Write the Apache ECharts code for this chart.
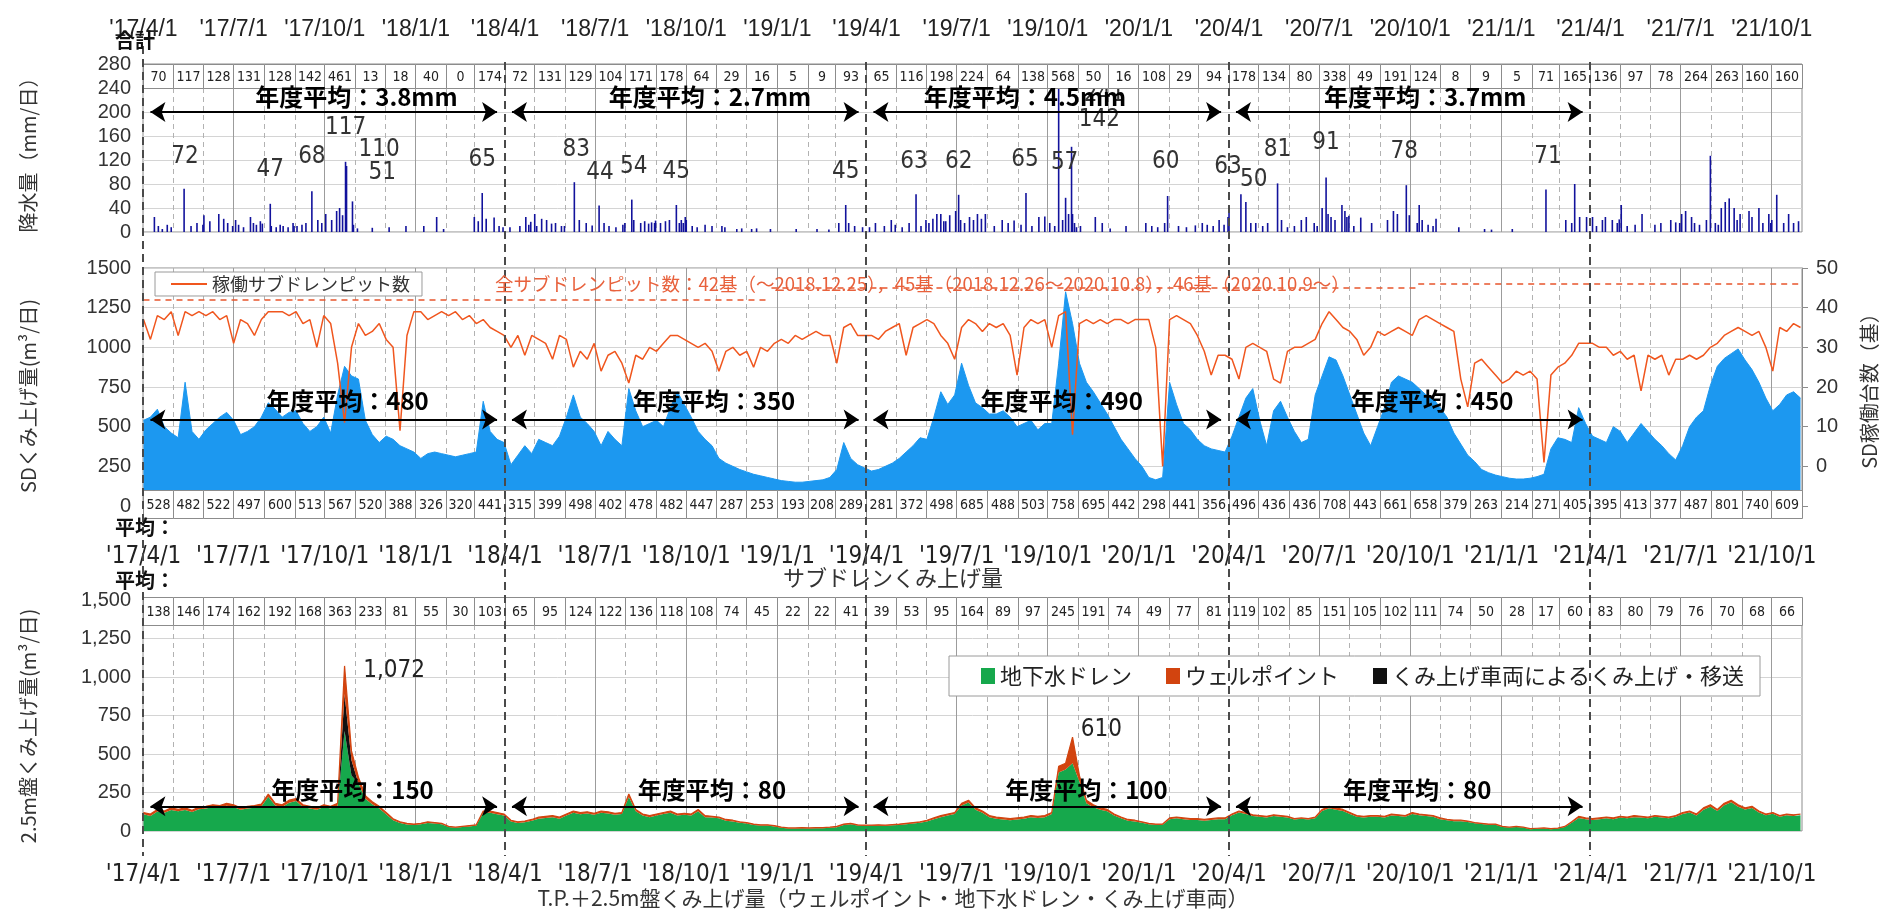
<!DOCTYPE html>
<html lang="ja">
<head>
<meta charset="utf-8">
<title>サブドレン・2.5m盤くみ上げ量</title>
<script src="https://cdn.jsdelivr.net/npm/echarts@6/dist/echarts.min.js"></script>
<style>
html, body { margin: 0; padding: 0; background: #fff; }
#chart { width: 1892px; height: 921px; }
</style>
</head>
<body>
<div id="chart"></div>
<script>
// ---------------- calendar ----------------
const FIRST_DAY = '2017-04-01';
const LAST_DAY = '2021-10-31';
const WEEK_STEP = 7;   // weekly series are sampled every 7 days from FIRST_DAY

const tickDates = ['2017-04-01','2017-07-01','2017-10-01','2018-01-01','2018-04-01','2018-07-01','2018-10-01',
  '2019-01-01','2019-04-01','2019-07-01','2019-10-01','2020-01-01','2020-04-01','2020-07-01','2020-10-01',
  '2021-01-01','2021-04-01','2021-07-01','2021-10-01'];
const tickLabels = ["'17/4/1","'17/7/1","'17/10/1","'18/1/1","'18/4/1","'18/7/1","'18/10/1",
  "'19/1/1","'19/4/1","'19/7/1","'19/10/1","'20/1/1","'20/4/1","'20/7/1","'20/10/1",
  "'21/1/1","'21/4/1","'21/7/1","'21/10/1"];
const fiscalStarts = ['2017-04-01','2018-04-01','2019-04-01','2020-04-01','2021-04-01'];

// ---------------- monthly table rows ----------------
const rainMonthly = [70,117,128,131,128,142,461,13,18,40,0,174,
  72,131,129,104,171,178,64,29,16,5,9,93,
  65,116,198,224,64,138,568,50,16,108,29,94,
  178,134,80,338,49,191,124,8,9,5,71,165,
  136,97,78,264,263,160,160];
const sdMonthly = [528,482,522,497,600,513,567,520,388,326,320,441,
  315,399,498,402,478,482,447,287,253,193,208,289,
  281,372,498,685,488,503,758,695,442,298,441,356,
  496,436,436,708,443,661,658,379,263,214,271,405,
  395,413,377,487,801,740,609];
const tpMonthly = [138,146,174,162,192,168,363,233,81,55,30,103,
  65,95,124,122,136,118,108,74,45,22,22,41,
  39,53,95,164,89,97,245,191,74,49,77,81,
  119,102,85,151,105,102,111,74,50,28,17,60,
  83,80,79,76,70,68,66];

// fiscal-year averages
const fyAvgRain = ['3.8mm','2.7mm','4.5mm','3.7mm'];
const fyAvgSD = [480, 350, 490, 450];
const fyAvgTP = [150, 80, 100, 80];

// ---------------- daily rainfall (mm/day) ----------------
const rainPeaks = [
  ['2017-05-12',72],['2017-08-07',47],['2017-09-18',68],['2017-10-22',117],['2017-10-23',110],['2017-10-29',51],
  ['2018-03-09',65],['2018-06-10',83],['2018-07-05',44],['2018-08-07',54],['2018-09-21',45],['2019-03-11',45],
  ['2019-05-21',63],['2019-07-03',62],['2019-09-09',65],['2019-10-19',57],['2019-10-25',142],['2019-10-12',241],
  ['2020-01-30',60],['2020-04-13',63],['2020-04-18',50],['2020-05-20',81],['2020-07-08',91],['2020-09-27',78],
  ['2021-02-15',71]
];
const rainDaily = [
  ['2017-04-12',25],['2017-04-16',10],['2017-04-20',5],['2017-04-25',12],['2017-04-29',8],
  ['2017-05-19',10],['2017-05-25',15],['2017-05-31',12],
  ['2017-06-01',28],['2017-06-07',18],['2017-06-16',30],['2017-06-21',22],['2017-06-25',15],['2017-06-30',10],
  ['2017-07-03',20],['2017-07-06',12],['2017-07-11',8],['2017-07-18',25],['2017-07-21',15],['2017-07-24',12],['2017-07-28',18],['2017-07-30',14],
  ['2017-08-08',10],['2017-08-13',8],['2017-08-17',12],['2017-08-20',10],['2017-08-25',8],['2017-08-30',15],['2017-08-31',10],
  ['2017-09-03',10],['2017-09-08',12],['2017-09-12',15],['2017-09-24',20],['2017-09-28',15],
  ['2017-10-02',30],['2017-10-08',20],['2017-10-13',35],['2017-10-16',40],['2017-10-19',28],['2017-10-30',12],
  ['2017-11-03',6],['2017-11-18',7],['2017-12-05',8],['2017-12-22',10],
  ['2018-01-09',10],['2018-01-22',25],['2018-01-29',5],
  ['2018-03-01',25],['2018-03-05',18],['2018-03-13',22],['2018-03-21',24],['2018-03-26',10],['2018-03-30',8],
  ['2018-04-06',8],['2018-04-16',10],['2018-04-22',25],['2018-04-25',12],['2018-04-27',17],
  ['2018-05-01',30],['2018-05-03',10],['2018-05-08',22],['2018-05-13',20],['2018-05-18',14],['2018-05-22',15],['2018-05-28',10],['2018-05-31',10],
  ['2018-06-15',20],['2018-06-22',15],['2018-06-28',11],
  ['2018-07-10',15],['2018-07-15',10],['2018-07-22',8],['2018-07-29',12],['2018-07-31',15],
  ['2018-08-09',20],['2018-08-16',15],['2018-08-20',18],['2018-08-24',14],['2018-08-27',16],['2018-08-30',15],['2018-08-31',19],
  ['2018-09-05',15],['2018-09-10',18],['2018-09-14',20],['2018-09-24',15],['2018-09-26',20],['2018-09-28',15],['2018-09-30',25],
  ['2018-10-01',20],['2018-10-07',10],['2018-10-12',8],['2018-10-20',12],['2018-10-27',10],
  ['2018-11-06',10],['2018-11-09',8],['2018-11-21',5],['2018-11-26',6],
  ['2018-12-06',5],['2018-12-11',6],['2018-12-25',5],['2019-01-20',5],['2019-02-10',5],['2019-02-22',4],
  ['2019-03-04',15],['2019-03-14',15],['2019-03-20',10],['2019-03-28',8],
  ['2019-04-04',8],['2019-04-10',15],['2019-04-19',10],['2019-04-26',20],['2019-04-30',12],
  ['2019-05-07',8],['2019-05-14',15],['2019-05-26',10],['2019-05-31',20],
  ['2019-06-03',15],['2019-06-07',22],['2019-06-11',30],['2019-06-15',30],['2019-06-18',18],['2019-06-20',18],['2019-06-24',28],['2019-06-30',35],
  ['2019-07-05',20],['2019-07-09',15],['2019-07-14',25],['2019-07-18',20],['2019-07-22',30],['2019-07-26',22],['2019-07-30',30],
  ['2019-08-08',10],['2019-08-16',20],['2019-08-22',15],['2019-08-28',19],
  ['2019-09-04',12],['2019-09-15',10],['2019-09-22',25],['2019-09-28',26],
  ['2019-10-03',15],['2019-10-08',10],['2019-10-16',20],['2019-10-22',30],['2019-10-26',30],['2019-10-28',15],['2019-10-30',8],
  ['2019-11-03',10],['2019-11-18',25],['2019-11-25',15],['2019-12-03',6],['2019-12-19',10],
  ['2020-01-08',15],['2020-01-14',10],['2020-01-20',8],['2020-01-27',15],
  ['2020-02-10',10],['2020-02-18',8],['2020-02-27',11],
  ['2020-03-05',15],['2020-03-10',12],['2020-03-16',10],['2020-03-22',20],['2020-03-27',12],['2020-03-31',25],
  ['2020-04-01',35],['2020-04-23',15],['2020-04-28',15],
  ['2020-05-05',10],['2020-05-10',15],['2020-05-24',20],['2020-05-30',8],
  ['2020-06-06',10],['2020-06-13',20],['2020-06-18',25],['2020-06-26',15],['2020-06-29',10],
  ['2020-07-04',40],['2020-07-10',30],['2020-07-13',25],['2020-07-17',20],['2020-07-24',45],['2020-07-27',35],['2020-07-29',25],['2020-07-31',27],
  ['2020-08-05',10],['2020-08-12',24],['2020-08-23',15],
  ['2020-09-08',20],['2020-09-14',35],['2020-09-18',30],['2020-09-30',28],
  ['2020-10-08',15],['2020-10-10',45],['2020-10-13',20],['2020-10-19',12],['2020-10-24',10],['2020-10-27',22],
  ['2020-11-19',8],['2020-12-15',5],['2020-12-22',4],['2021-01-12',5],
  ['2021-03-07',20],['2021-03-13',15],['2021-03-16',80],['2021-03-21',25],['2021-03-28',25],
  ['2021-04-03',25],['2021-04-07',10],['2021-04-13',20],['2021-04-16',25],['2021-04-23',20],['2021-04-28',15],['2021-04-30',21],
  ['2021-05-02',45],['2021-05-08',10],['2021-05-16',12],['2021-05-23',30],
  ['2021-06-05',12],['2021-06-11',15],['2021-06-21',20],['2021-06-26',16],['2021-06-30',15],
  ['2021-07-02',30],['2021-07-06',35],['2021-07-12',25],['2021-07-15',15],['2021-07-20',12],['2021-07-27',20],['2021-07-31',127],
  ['2021-08-05',15],['2021-08-08',12],['2021-08-11',40],['2021-08-15',50],['2021-08-19',56],['2021-08-24',40],['2021-08-27',20],['2021-08-30',30],
  ['2021-09-08',35],['2021-09-11',25],['2021-09-18',40],['2021-09-22',15],['2021-09-28',30],['2021-09-30',15],
  ['2021-10-01',20],['2021-10-06',62],['2021-10-13',15],['2021-10-18',30],['2021-10-23',15],['2021-10-28',18]
];

// ---------------- weekly series ----------------
// subdrain pumping (m3/day)
const sdWeekly = [
  540,560,610,500,460,430,780,470,420,480,520,560,590,540,450,470,500,560,650,610,560,590,600,520,470,500,560,460,700,880,820,800,540,450,400,440,420,380,360,340,300,330,340,330,320,310,320,330,340,660,470,420,400,
  260,320,380,330,420,400,380,440,560,700,560,520,470,380,470,420,380,740,600,500,520,540,500,620,720,640,560,470,420,380,300,270,250,230,215,200,190,180,170,160,155,150,150,155,160,165,180,230,400,300,260,240,
  220,230,250,270,300,340,380,430,420,560,720,640,700,900,760,650,620,580,580,600,560,500,520,540,480,520,520,900,1350,1150,900,780,720,650,580,500,420,360,300,250,180,165,180,780,640,520,480,420,380,360,350,340,
  440,560,680,740,540,380,600,660,560,470,400,420,700,820,940,920,820,700,580,460,380,500,620,780,820,800,780,740,700,680,620,560,460,390,320,280,230,210,195,185,175,170,170,175,185,200,360,430,420,400,620,520,
  440,420,400,500,470,400,460,520,470,420,380,330,290,380,500,560,600,760,880,930,960,990,920,860,780,680,600,640,700,720,680
];
// operating subdrain pits (count)
const pitWeekly = [
  37,32,38,37,39,33,39,38,39,38,39,37,38,31,37,36,33,37,39,39,39,38,39,36,37,30,38,36,26,11,30,36,33,34,36,32,30,9,33,39,39,37,38,39,38,39,37,38,36,37,35,34,33,
  30,33,28,33,32,31,27,33,32,25,29,27,31,24,28,29,26,21,28,27,30,29,31,33,33,32,31,30,31,29,24,29,30,28,29,25,30,29,31,32,31,33,32,33,34,33,33,26,35,36,33,33,
  33,32,34,35,36,28,35,36,37,36,33,31,27,35,37,36,34,36,35,36,33,23,35,37,36,37,30,38,39,8,36,37,36,37,36,37,37,36,37,37,37,30,0,37,38,37,36,33,29,23,28,28,
  27,22,30,31,30,29,22,21,29,30,30,31,32,36,39,37,35,34,32,28,30,34,33,34,35,34,33,37,38,37,36,35,34,22,15,26,27,25,23,21,22,24,23,24,22,1,23,25,26,28,31,31,
  31,30,30,28,29,27,28,19,28,27,28,23,27,27,28,27,28,30,31,33,34,35,34,33,34,30,24,35,34,36,35
];
// T.P.+2.5m: groundwater drain (m3/day)
const drainWeekly = [
  108,98,126,118,136,128,136,123,141,146,156,151,164,156,138,146,151,159,222,166,156,184,194,156,146,138,156,146,164,650,360,310,210,174,146,108,70,52,42,39,44,52,49,44,26,21,26,30,35,118,118,108,100,
  62,52,57,67,80,85,90,80,100,118,108,113,105,118,113,105,110,220,128,100,90,100,110,118,100,105,100,128,90,87,82,67,62,54,49,39,35,35,30,21,16,16,18,16,18,18,21,25,39,44,35,33,
  33,35,33,37,39,44,49,54,62,77,90,100,110,165,185,138,118,90,80,75,70,75,80,90,85,90,110,380,400,440,320,180,155,138,128,100,82,67,62,54,44,40,40,77,82,77,72,72,67,72,77,77,
  102,120,110,97,92,87,97,92,87,74,79,74,82,130,148,138,130,110,92,87,92,92,87,100,97,92,110,102,97,92,77,69,64,64,59,50,45,41,41,26,22,26,22,12,15,17,12,16,26,54,85,77,
  72,77,82,77,87,82,90,87,82,92,87,82,92,110,120,100,138,158,130,168,186,158,140,150,120,102,112,92,102,97,102
];
// T.P.+2.5m: well points (m3/day)
const wellWeekly = [
  12,12,14,12,14,12,14,12,14,14,14,14,16,14,12,14,14,16,18,14,14,16,16,14,14,12,14,14,16,182,60,40,20,16,14,12,10,8,8,6,6,8,6,6,4,4,4,5,5,12,12,12,10,
  8,8,8,8,10,10,10,10,10,12,12,12,10,12,12,10,10,20,12,10,10,10,10,12,10,10,10,12,10,8,8,8,8,6,6,6,5,5,5,4,4,4,4,4,4,4,4,5,6,6,5,5,
  5,5,5,5,6,6,6,6,8,8,10,10,10,15,15,12,12,10,10,10,10,10,10,10,10,10,10,40,40,170,40,20,15,12,12,10,8,8,8,6,6,5,5,8,8,8,8,8,8,8,8,8,
  8,10,10,8,8,8,8,8,8,6,6,6,8,10,12,12,10,10,8,8,8,8,8,10,8,8,10,8,8,8,8,6,6,6,6,5,5,4,4,4,3,4,3,3,3,3,3,3,4,6,10,8,
  8,8,8,8,8,8,10,8,8,8,8,8,8,10,10,10,12,12,10,12,14,12,10,10,10,8,8,8,8,8,8
];
// T.P.+2.5m: pumping by tank truck (m3/day), weeks with transfers
const vehicleEvents = [['2017-10-21', 240], ['2017-10-28', 100]];

// total subdrain pits: [from, to, count]
const pitTotals = [['2017-04-01','2018-12-25',42], ['2018-12-26','2020-10-08',45], ['2020-10-09','2021-10-31',46]];

// ---------------- annotation layout ----------------
const rainPeakLabelAt = [
  ['2017-05-13',125],['2017-08-07',103],['2017-09-18',125],['2017-10-22',173],['2017-11-25',137],['2017-11-28',98],
  ['2018-03-09',120],['2018-06-12',137],['2018-07-06',98],['2018-08-09',108],['2018-09-21',100],['2019-03-11',100],
  ['2019-05-19',117],['2019-07-03',117],['2019-09-08',120],['2019-10-18',115],['2019-11-22',187],['2019-11-27',229],
  ['2020-01-28',117],['2020-03-31',108],['2020-04-26',87],['2020-05-20',137],['2020-07-08',148],['2020-09-25',133],
  ['2021-02-17',125]
];
const tpPeakWeeks = ['2017-10-21', '2019-10-26'];
const tpPeakLabelAt = [['2017-12-10', 1040], ['2019-11-24', 655]];
const fyLabelRain = ['2017-11-02','2018-10-25','2019-09-08','2020-10-16'];
const fyLabelSD = ['2017-10-24','2018-10-29','2019-10-15','2020-10-23'];
const fyLabelTP = ['2017-10-29','2018-10-27','2019-11-09','2020-10-08'];

// ---------------- helpers ----------------
const DAY_MS = 86400000;
const t0 = Date.parse(FIRST_DAY + 'T00:00:00Z');
const dayIndex = s => Math.round((Date.parse(s + 'T00:00:00Z') - t0) / DAY_MS);
const dayCount = dayIndex(LAST_DAY) + 1;
const days = [];
for (let i = 0; i < dayCount; i++) days.push(new Date(t0 + i * DAY_MS).toISOString().slice(0, 10));
const monthStarts = [];
days.forEach((d, i) => { if (d.endsWith('-01')) monthStarts.push(i); });
monthStarts.push(dayCount);
const tickLabelOf = {};
tickDates.forEach((d, k) => { tickLabelOf[d] = tickLabels[k]; });

const weekly = arr => arr.map((v, i) => [i * WEEK_STEP, v]);
const vehicleByWeek = {};
vehicleEvents.forEach(([d, v]) => { vehicleByWeek[dayIndex(d) / WEEK_STEP] = v; });
const vehicleWeekly = drainWeekly.map((_, i) => vehicleByWeek[i] || 0);
const rainBars = rainDaily.concat(rainPeaks).map(([d, v]) => [dayIndex(d), v]);

const FONT_NUM = '"Liberation Sans", "DejaVu Sans", Arial, sans-serif';
const FONT_NARROW = '"Liberation Sans Narrow", "DejaVu Sans Condensed", "Liberation Sans", sans-serif';
const FONT_JP = '"Noto Sans CJK JP", "Noto Sans", sans-serif';

const C_RAIN = '#12129c', C_SD = '#1c98f0', C_PIT = '#f0561e', C_DASH = '#e8552d';
const C_DRAIN = '#16a84c', C_WELL = '#d2440f', C_TRUCK = '#111111';

function xAxisFor(g, position, label) {
  return {
    type: 'category', gridIndex: g, position, data: days, boundaryGap: true,
    axisLine: { show: false }, axisTick: { show: false }, splitLine: { show: false },
    axisLabel: Object.assign({
      interval: (i, v) => tickLabelOf[v] !== undefined,
      formatter: v => tickLabelOf[v] || '',
      color: '#222'
    }, label)
  };
}

function fyArrows(value) {
  const data = [];
  for (let k = 0; k < 4; k++) {
    data.push([{ coord: [dayIndex(fiscalStarts[k]) + 7, value] },
               { coord: [dayIndex(fiscalStarts[k + 1]) - 8, value] }]);
  }
  return { silent: true, symbol: ['arrow', 'arrow'], symbolSize: 15, animation: false,
           lineStyle: { color: '#000', width: 2, type: 'solid' }, label: { show: false }, data };
}

// monthly table row drawn along an axis: band = [valueTop, pxTop, valueBottom, pxBottom]
function boxRow(g, yi, values, band) {
  return {
    type: 'custom', xAxisIndex: g, yAxisIndex: yi, z: 6, silent: true, encode: { x: 0, y: 2 },
    data: values.map((v, k) => [monthStarts[k], monthStarts[k + 1] - 1, v]),
    renderItem(params, api) {
      const bw = api.size([1, 0])[0];
      const x0 = Math.round(api.coord([api.value(0), 0])[0] - bw / 2) + 0.5;
      const x1 = Math.round(api.coord([api.value(1), 0])[0] + bw / 2) + 0.5;
      const y0 = Math.round(api.coord([0, band[0]])[1] + band[1]) + 0.5;
      const y1 = Math.round(api.coord([0, band[2]])[1] + band[3]) + 0.5;
      return { type: 'group', children: [
        { type: 'rect', shape: { x: x0, y: y0, width: x1 - x0, height: y1 - y0 },
          style: { fill: '#fff', stroke: '#8c8c8c', lineWidth: 1 } },
        { type: 'text', style: { text: String(api.value(2)), x: (x0 + x1) / 2, y: (y0 + y1) / 2 + 1,
          align: 'center', verticalAlign: 'middle', textAlign: 'center', textVerticalAlign: 'middle',
          font: '14px ' + FONT_NARROW, fill: '#222' } }
      ] };
    }
  };
}

const monthLineData = monthStarts.slice(1, -1)
  .filter(i => days[i].slice(5, 7) !== '04')
  .map(i => [i, ['01', '07', '10'].includes(days[i].slice(5, 7)) ? 1 : 0]);

// vertical month grid: span = [valueTop, pxTop, valueBottom, pxBottom]
function monthLines(g, yi, span) {
  return {
    type: 'custom', xAxisIndex: g, yAxisIndex: yi, z: 1, silent: true, encode: { x: 0, y: 1 },
    data: monthLineData,
    renderItem(params, api) {
      const bw = api.size([1, 0])[0];
      const x = Math.round(api.coord([api.value(0), 0])[0] - bw / 2) + 0.5;
      const y0 = api.coord([0, span[0]])[1] + span[1];
      const y1 = api.coord([0, span[2]])[1] + span[3];
      const quarter = api.value(1) === 1;
      return { type: 'line', shape: { x1: x, y1: y0, x2: x, y2: y1 },
        style: { stroke: quarter ? '#9c9c9c' : '#b2b2b2', lineWidth: 1, lineDash: quarter ? null : [5, 4] } };
    }
  };
}

const yLabel = { color: '#333', fontSize: 20, fontFamily: FONT_NUM, margin: 12, formatter: v => String(v) };
const gridLine = { show: true, lineStyle: { color: '#d4d4d4', width: 1 } };

const option = {
  animation: false,
  backgroundColor: '#ffffff',
  textStyle: { fontFamily: FONT_JP },
  legend: [
    { data: ['稼働サブドレンピット数'], left: 155, top: 272, selectedMode: false,
      backgroundColor: '#fff', borderColor: '#9a9a9a', borderWidth: 1, padding: [3, 12, 3, 16],
      icon: 'rect', itemWidth: 36, itemHeight: 2,
      textStyle: { fontSize: 18, color: '#333', fontFamily: FONT_JP } },
    { data: ['地下水ドレン', 'ウェルポイント', 'くみ上げ車両によるくみ上げ・移送'], left: 949, top: 656, selectedMode: false,
      backgroundColor: '#fff', borderColor: '#9a9a9a', borderWidth: 1, padding: [9, 16, 9, 32],
      icon: 'rect', itemWidth: 14, itemHeight: 16, itemGap: 34,
      textStyle: { fontSize: 22, color: '#222', fontFamily: FONT_JP } }
  ],
  grid: [
    { left: 143, width: 1659, top: 64, height: 168, show: true, borderColor: '#8c8c8c', borderWidth: 1 },
    { left: 143, width: 1659, top: 268, height: 238, show: true, borderColor: '#8c8c8c', borderWidth: 1 },
    { left: 143, width: 1659, top: 600, height: 231, show: true, borderColor: '#8c8c8c', borderWidth: 1 }
  ],
  xAxis: [
    xAxisFor(0, 'top', { fontSize: 23, fontFamily: FONT_NUM, margin: 23 }),
    xAxisFor(1, 'bottom', { fontSize: 24, fontFamily: FONT_NARROW, margin: 39 }),
    xAxisFor(2, 'bottom', { fontSize: 24, fontFamily: FONT_NARROW, margin: 32 })
  ],
  yAxis: [
    { type: 'value', gridIndex: 0, min: 0, max: 280, interval: 40, axisLabel: yLabel, splitLine: gridLine,
      axisLine: { show: false }, axisTick: { show: false } },
    { type: 'value', gridIndex: 1, min: 0, max: 1500, interval: 250, axisLabel: yLabel, splitLine: gridLine,
      axisLine: { show: false }, axisTick: { show: false } },
    { type: 'value', gridIndex: 1, position: 'right', min: -10, max: 50, interval: 10,
      axisLabel: Object.assign({}, yLabel, { margin: 14, formatter: v => (v < 0 ? '' : String(v)) }),
      splitLine: { show: false }, axisLine: { show: true, lineStyle: { color: '#8c8c8c' } },
      axisTick: { show: true, length: 6, lineStyle: { color: '#8c8c8c' } } },
    { type: 'value', gridIndex: 2, min: 0, max: 1500, interval: 250,
      axisLabel: Object.assign({}, yLabel, { formatter: v => v.toLocaleString('en-US') }), splitLine: gridLine,
      axisLine: { show: false }, axisTick: { show: false } }
  ],
  series: [
    // rainfall
    { name: '降水量', type: 'bar', xAxisIndex: 0, yAxisIndex: 0, data: rainBars, barWidth: 1.6,
      itemStyle: { color: C_RAIN }, z: 3, markLine: fyArrows(200) },
    boxRow(0, 0, rainMonthly, [280, 0, 240, 0]),
    monthLines(0, 0, [240, 0, 0, 0]),
    // subdrain pumping
    { name: 'SDくみ上げ量', type: 'line', xAxisIndex: 1, yAxisIndex: 1, data: weekly(sdWeekly),
      symbol: 'none', lineStyle: { width: 1, color: C_SD }, itemStyle: { color: C_SD },
      areaStyle: { color: C_SD, opacity: 1 }, z: 2, markLine: fyArrows(545) },
    { name: '稼働サブドレンピット数', type: 'line', xAxisIndex: 1, yAxisIndex: 2, data: weekly(pitWeekly),
      symbol: 'none', lineStyle: { width: 1.5, color: C_PIT }, itemStyle: { color: C_PIT }, z: 4,
      markLine: { silent: true, symbol: 'none', animation: false, label: { show: false },
        lineStyle: { color: C_DASH, width: 1.6, type: [6, 5] },
        data: pitTotals.map(([a, b, n]) => [{ coord: [dayIndex(a), n] }, { coord: [dayIndex(b), n] }]) } },
    boxRow(1, 1, sdMonthly, [0, -16, 0, 12]),
    monthLines(1, 1, [1500, 0, 0, -16]),
    // T.P.+2.5m pumping (stacked)
    { name: '地下水ドレン', type: 'line', stack: 'tp', xAxisIndex: 2, yAxisIndex: 3, data: weekly(drainWeekly),
      symbol: 'none', lineStyle: { width: 0, color: C_DRAIN }, itemStyle: { color: C_DRAIN },
      areaStyle: { color: C_DRAIN, opacity: 1 }, z: 2, markLine: fyArrows(160) },
    { name: 'くみ上げ車両によるくみ上げ・移送', type: 'line', stack: 'tp', xAxisIndex: 2, yAxisIndex: 3, data: weekly(vehicleWeekly),
      symbol: 'none', lineStyle: { width: 0, color: C_TRUCK }, itemStyle: { color: C_TRUCK },
      areaStyle: { color: C_TRUCK, opacity: 1 }, z: 2 },
    { name: 'ウェルポイント', type: 'line', stack: 'tp', xAxisIndex: 2, yAxisIndex: 3, data: weekly(wellWeekly),
      symbol: 'none', lineStyle: { width: 1.2, color: C_WELL }, itemStyle: { color: C_WELL },
      areaStyle: { color: C_WELL, opacity: 1 }, z: 2 },
    boxRow(2, 3, tpMonthly, [1500, -3, 1500, 25]),
    monthLines(2, 3, [1500, 25, 0, 0])
  ]
};

const chart = echarts.init(document.getElementById('chart'), null, { renderer: 'canvas' });
chart.setOption(option);

// ---------------- overlay texts and fiscal-year dividers ----------------
(function drawOverlays() {
  const P = (g, d, v) => chart.convertToPixel({ gridIndex: g }, [typeof d === 'string' ? dayIndex(d) : d, v]);
  const band = P(0, 1, 0)[0] - P(0, 0, 0)[0];
  const els = [];
  const text = (str, x, y, font, fill, extra) => {
    const e = Object.assign({ type: 'text', x, y, z: 60, silent: true }, extra || {});
    e.style = Object.assign({ text: str, font, fill, align: 'center', verticalAlign: 'middle',
      textAlign: 'center', textVerticalAlign: 'middle' }, (extra && extra.style) || {});
    return e;
  };

  fiscalStarts.forEach((d, k) => {
    const x = Math.round(P(0, dayIndex(d), 0)[0] - band / 2);
    els.push({ type: 'line', z: 50, silent: true, shape: { x1: x, y1: k === 0 ? 46 : 62, x2: x, y2: 856 },
      style: { stroke: '#4a4a4a', lineWidth: 2, lineDash: [8, 5] } });
  });

  // axis titles
  els.push(text('降水量（mm/日）', 28, 150, '20px ' + FONT_JP, '#333', { rotation: Math.PI / 2 }));
  els.push(text('SDくみ上げ量(m³/日)', 28, 396, '20px ' + FONT_JP, '#333', { rotation: Math.PI / 2 }));
  els.push(text('2.5m盤くみ上げ量(m³/日)', 28, 726, '20px ' + FONT_JP, '#333', { rotation: Math.PI / 2 }));
  els.push(text('SD稼働台数（基）', 1869, 386, '20px ' + FONT_JP, '#333', { rotation: Math.PI / 2 }));

  // row captions and chart titles
  const capStyle = { align: 'left', textAlign: 'left' };
  els.push(text('合計', 115, 40, 'bold 20px ' + FONT_JP, '#111', { style: capStyle }));
  els.push(text('平均：', 115, 527, 'bold 20px ' + FONT_JP, '#111', { style: capStyle }));
  els.push(text('平均：', 115, 580, 'bold 20px ' + FONT_JP, '#111', { style: capStyle }));
  els.push(text('サブドレンくみ上げ量', 893, 578, '22px ' + FONT_JP, '#333'));
  els.push(text('T.P.＋2.5m盤くみ上げ量（ウェルポイント・地下水ドレン・くみ上げ車両）', 893, 898, '21px ' + FONT_JP, '#333'));

  // total pit count note
  const noteParts = pitTotals.map(([a, b, n], k) => {
    const fmt = s => s.split('-').map(Number).join('.');
    if (k === 0) return n + '基（～' + fmt(b) + '）';
    if (k === pitTotals.length - 1) return n + '基（' + fmt(a) + '～）';
    return n + '基（' + fmt(a) + '～' + fmt(b) + '）';
  });
  els.push(text('全サブドレンピット数：' + noteParts.join('，'), 495, 284, '18.5px ' + FONT_JP, '#e8613c', { style: capStyle }));

  // fiscal-year averages
  const fyFont = 'bold 24px ' + FONT_JP;
  fyAvgRain.forEach((v, k) => { const p = P(0, fyLabelRain[k], 225); els.push(text('年度平均：' + v, p[0], p[1], fyFont, '#000')); });
  fyAvgSD.forEach((v, k) => { const p = P(1, fyLabelSD[k], 660); els.push(text('年度平均：' + v, p[0], p[1], fyFont, '#000')); });
  fyAvgTP.forEach((v, k) => { const p = P(2, fyLabelTP[k], 266); els.push(text('年度平均：' + v, p[0], p[1], fyFont, '#000')); });

  // rainfall peak values
  rainPeaks.forEach(([d, v], k) => {
    const p = P(0, rainPeakLabelAt[k][0], rainPeakLabelAt[k][1]);
    els.push(text(String(v), p[0], p[1], '24px ' + FONT_NARROW, '#333', { z: 4 }));
  });

  // T.P.+2.5m peak totals
  tpPeakWeeks.forEach((d, k) => {
    const w = dayIndex(d) / WEEK_STEP;
    const total = drainWeekly[w] + wellWeekly[w] + vehicleWeekly[w];
    const p = P(2, tpPeakLabelAt[k][0], tpPeakLabelAt[k][1]);
    els.push(text(total.toLocaleString('en-US'), p[0], p[1], '24px ' + FONT_NARROW, '#222'));
  });

  chart.setOption({ graphic: { elements: els } });
})();
</script>
</body>
</html>
